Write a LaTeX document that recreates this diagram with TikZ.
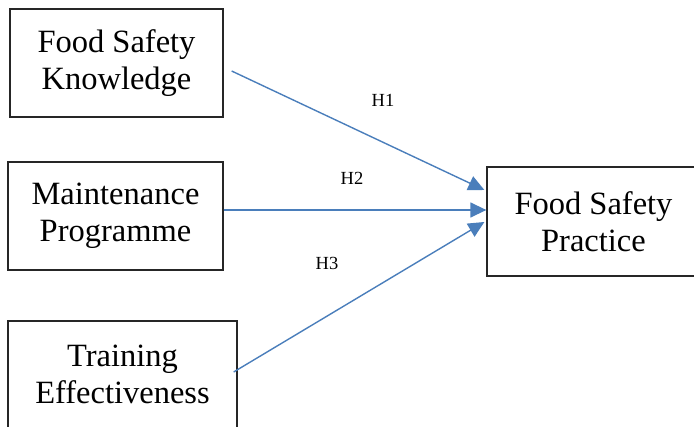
\documentclass[tikz,border=0pt]{standalone}
\usepackage{fontspec}
\setmainfont{Liberation Serif}
\usetikzlibrary{arrows.meta,calc}
\definecolor{arrowblue}{RGB}{74,126,187}
\tikzset{
  box/.style={draw=black!85, line width=1.3pt, inner sep=0pt, align=center,
    font=\fontsize{32.5}{37}\selectfont},
  link/.style={draw=arrowblue, line width=1.4pt,
    -{Triangle[length=16pt,width=15pt]}},
  hyp/.style={font=\fontsize{18.5}{22}\selectfont, inner sep=0pt}
}
\begin{document}
\begin{tikzpicture}[x=1pt,y=-1pt]
\useasboundingbox (0,0) rectangle (694,427);
\clip (0,0) rectangle (694,427);
\node[box, minimum width=213pt, minimum height=108pt] (k) at (116.5,63) {Food Safety\\Knowledge};
\node[box, minimum width=215pt, minimum height=108pt] (m) at (115.5,216) {Maintenance\\Programme};
\node[box, minimum width=229pt, minimum height=107pt] (t) at (122.5,374.5) {Training\\Effectiveness};
\node[box, minimum width=213pt, minimum height=109pt] (p) at (593.5,221.5) {Food Safety\\Practice};
\draw[link] ($(k.east)+(8,8)$) -- ($(p.west)+(-2,-31.5)$);
\draw[link] ($(m.east)+(0,-6)$) -- ($(p.west)+(0,-11.5)$);
\draw[link] ($(t.east)+(-4,-2.5)$) -- ($(p.west)+(-2,0.5)$);
\node[hyp] (h1) at (383,100) {H1};
\node[hyp] (h2) at (352,178) {H2};
\node[hyp] (h3) at (327,263) {H3};
\end{tikzpicture}
\end{document}
